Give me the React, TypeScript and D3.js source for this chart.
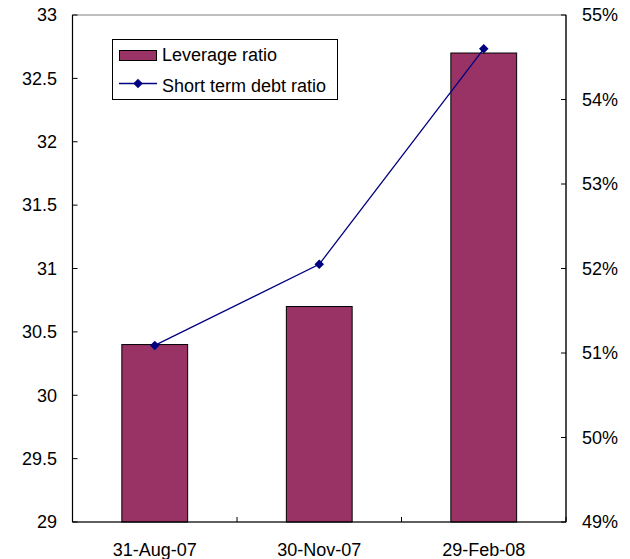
import React from 'react';
import * as d3 from 'd3';

const dates = ['31-Aug-07', '30-Nov-07', '29-Feb-08'];
const leverage = [30.4, 30.7, 32.7];
const shortTermDebt = [0.5109, 0.5205, 0.546];
const leftTicks = [29, 29.5, 30, 30.5, 31, 31.5, 32, 32.5, 33];
const rightTicks = [0.49, 0.5, 0.51, 0.52, 0.53, 0.54, 0.55];

const W = 630;
const H = 559;
const m = { left: 72.5, right: 64, top: 15, bottom: 37 };
const font = 'Liberation Sans, Arial, sans-serif';
const fs = 18;

const App = () => {
  const x = d3.scaleBand().domain(dates).range([m.left, W - m.right]);
  const yL = d3.scaleLinear().domain([29, 33]).range([H - m.bottom, m.top]);
  const yR = d3.scaleLinear().domain([0.49, 0.55]).range([H - m.bottom, m.top]);
  const barW = x.bandwidth() * 0.4;
  const cx = (d: string) => (x(d) as number) + x.bandwidth() / 2;

  const line = d3.line<number>()
    .x((d, i) => cx(dates[i]))
    .y(d => yR(d));

  // Excel-style diamond: a square turned 45 degrees
  const diamond = d3.symbol().type(d3.symbolSquare).size(45)();
  const bottom = H - m.bottom;
  const right = W - m.right;
  const pct = d3.format('.0%');

  return (
    <div style={{ position: 'absolute', left: 0, top: 0 }}>
      <svg width={W} height={H} style={{ display: 'block', background: '#fff' }}>
        {/* plot area border */}
        <rect x={m.left} y={m.top} width={right - m.left} height={bottom - m.top}
          fill="#fff" stroke="#808080" strokeWidth={1} />

        {/* bars */}
        {dates.map((d, i) => (
          <rect key={d} x={cx(d) - barW / 2} y={yL(leverage[i])} width={barW}
            height={bottom - yL(leverage[i])} fill="#993366" stroke="#000" strokeWidth={1} />
        ))}

        {/* axes */}
        <line x1={m.left} x2={m.left} y1={m.top} y2={bottom} stroke="#000" strokeWidth={1.2} />
        <line x1={right} x2={right} y1={m.top} y2={bottom} stroke="#000" strokeWidth={1.2} />
        <line x1={m.left} x2={right} y1={bottom} y2={bottom} stroke="#000" strokeWidth={1.2} />

        {leftTicks.map(t => (
          <g key={'l' + t}>
            <line x1={m.left} x2={m.left + 5} y1={yL(t)} y2={yL(t)} stroke="#000" />
            <text x={57} y={yL(t)} dy="0.35em" textAnchor="end" fontFamily={font} fontSize={fs}>{t}</text>
          </g>
        ))}
        {rightTicks.map(t => (
          <g key={'r' + t}>
            <line x1={right - 5} x2={right} y1={yR(t)} y2={yR(t)} stroke="#000" />
            <text x={582} y={yR(t)} dy="0.35em" textAnchor="start" fontFamily={font} fontSize={fs}>{pct(t)}</text>
          </g>
        ))}
        {[0, 1, 2, 3].map(i => {
          const xx = m.left + i * x.step();
          return <line key={'x' + i} x1={xx} x2={xx} y1={bottom} y2={bottom - 5} stroke="#000" />;
        })}
        {dates.map(d => (
          <text key={'t' + d} x={cx(d)} y={556} textAnchor="middle" fontFamily={font} fontSize={fs}>{d}</text>
        ))}

        {/* line series */}
        <path d={line(shortTermDebt) || ''} fill="none" stroke="#000080" strokeWidth={1.3} />
        {shortTermDebt.map((v, i) => (
          <path key={'p' + i} d={diamond || ''} transform={`translate(${cx(dates[i])},${yR(v)}) rotate(45)`} fill="#000080" />
        ))}

        {/* legend */}
        <g>
          <rect x={112.5} y={39.5} width={225} height={60} fill="#fff" stroke="#000" strokeWidth={1} />
          <rect x={119.5} y={50.5} width={37} height={10} fill="#993366" stroke="#000" strokeWidth={1} />
          <text x={162} y={61} fontFamily={font} fontSize={fs}>Leverage ratio</text>
          <line x1={119} x2={157} y1={83.5} y2={83.5} stroke="#000080" strokeWidth={1.3} />
          <path d={diamond || ''} transform="translate(138,83.5) rotate(45)" fill="#000080" />
          <text x={162} y={92} fontFamily={font} fontSize={fs}>Short term debt ratio</text>
        </g>
      </svg>
    </div>
  );
};

export default App;
